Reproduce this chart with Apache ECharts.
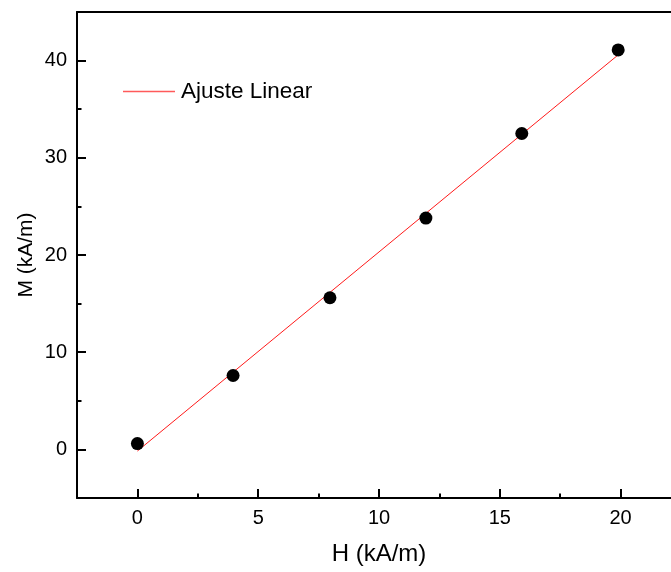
<!DOCTYPE html>
<html>
<head>
<meta charset="utf-8">
<script src="https://cdn.jsdelivr.net/npm/echarts@6/dist/echarts.min.js"></script>
<style>
  html, body { margin: 0; padding: 0; background: #fff; overflow: hidden; }
  #chart { width: 671px; height: 572px; }
</style>
</head>
<body>
<div id="chart"></div>
<script>
// Measured magnetization M against applied field H
const hValues = [0, 3.96, 7.97, 11.94, 15.91, 19.9];
const mValues = [0.6, 7.6, 15.6, 23.8, 32.5, 41.1];

// Least-squares line endpoints (H, M)
const fitH = [0, 19.9];
const fitM = [-0.17, 40.59];

// Tick positions
const xMajor = [0, 5, 10, 15, 20];
const xMinor = [2.5, 7.5, 12.5, 17.5];
const yMajor = [0, 10, 20, 30, 40];
const yMinor = [5, 15, 25, 35];

const legendName = 'Ajuste Linear';
const xAxisName = 'H (kA/m)';
const yAxisName = 'M (kA/m)';

const font = '"Liberation Sans", Arial, sans-serif';
const X_RANGE = { min: -2.5, max: 22.5 };
const Y_RANGE = { min: -5, max: 45 };

const chart = echarts.init(document.getElementById('chart'), null, { renderer: 'canvas' });

const black2 = { color: '#000', width: 2 };

chart.setOption({
  animation: false,
  backgroundColor: '#fff',
  // the plot area runs past the right edge of the canvas
  grid: { left: 77, top: 12, width: 604, height: 486, outerBoundsMode: 'none', containLabel: false, show: false },
  legend: {
    data: [{ name: legendName, icon: 'rect' }],
    left: 123,
    top: 80,
    padding: 0,
    itemWidth: 52,
    itemHeight: 1.3,
    itemGap: 6,
    itemStyle: { color: '#ff5a5a' },
    textStyle: { fontFamily: font, fontSize: 22.5, color: '#000', padding: [0, 0, 0, 1] }
  },
  xAxis: [{
    type: 'value',
    min: X_RANGE.min,
    max: X_RANGE.max,
    interval: 2.5,
    position: 'bottom',
    name: xAxisName,
    nameLocation: 'middle',
    nameGap: 44,
    nameMoveOverlap: false,
    nameTextStyle: { fontFamily: font, fontSize: 24, color: '#000' },
    axisLine: { show: true, onZero: false, lineStyle: black2 },
    axisTick: { show: true, inside: true, length: 9, customValues: xMajor, lineStyle: black2 },
    axisLabel: { fontFamily: font, fontSize: 20, color: '#000', margin: 10, customValues: xMajor },
    splitLine: { show: false }
  }, {
    // frame line along the top of the plot
    type: 'value',
    min: X_RANGE.min,
    max: X_RANGE.max,
    position: 'top',
    axisLine: { show: true, onZero: false, lineStyle: black2 },
    axisTick: { show: false },
    axisLabel: { show: false },
    splitLine: { show: false }
  }, {
    // minor ticks on the bottom axis
    type: 'value',
    min: X_RANGE.min,
    max: X_RANGE.max,
    interval: 2.5,
    position: 'bottom',
    offset: 0,
    axisLine: { show: false, onZero: false },
    axisTick: { show: true, inside: true, length: 4.5, customValues: xMinor, lineStyle: black2 },
    axisLabel: { show: false },
    splitLine: { show: false }
  }],
  yAxis: [{
    type: 'value',
    min: Y_RANGE.min,
    max: Y_RANGE.max,
    interval: 5,
    position: 'left',
    name: yAxisName,
    nameLocation: 'middle',
    nameGap: 40,
    nameMoveOverlap: false,
    nameRotate: 90,
    nameTextStyle: { fontFamily: font, fontSize: 21, color: '#000' },
    axisLine: { show: true, onZero: false, lineStyle: black2 },
    axisTick: { show: true, inside: true, length: 9, customValues: yMajor, lineStyle: black2 },
    axisLabel: { fontFamily: font, fontSize: 20, color: '#000', margin: 10, customValues: yMajor },
    splitLine: { show: false }
  }, {
    // minor ticks on the left axis
    type: 'value',
    min: Y_RANGE.min,
    max: Y_RANGE.max,
    interval: 5,
    position: 'left',
    offset: 0,
    axisLine: { show: false, onZero: false },
    axisTick: { show: true, inside: true, length: 4.5, customValues: yMinor, lineStyle: black2 },
    axisLabel: { show: false },
    splitLine: { show: false }
  }],
  series: [{
    name: legendName,
    type: 'line',
    xAxisIndex: 0,
    yAxisIndex: 0,
    data: fitH.map((h, i) => [h, fitM[i]]),
    symbol: 'none',
    lineStyle: { color: '#ff1a1a', width: 1 },
    itemStyle: { color: '#ff5a5a' },
    z: 2
  }, {
    name: 'dados',
    type: 'scatter',
    xAxisIndex: 0,
    yAxisIndex: 0,
    data: hValues.map((h, i) => [h, mValues[i]]),
    symbol: 'circle',
    symbolSize: 13,
    itemStyle: { color: '#000', opacity: 1 },
    z: 3
  }]
});
</script>
</body>
</html>
